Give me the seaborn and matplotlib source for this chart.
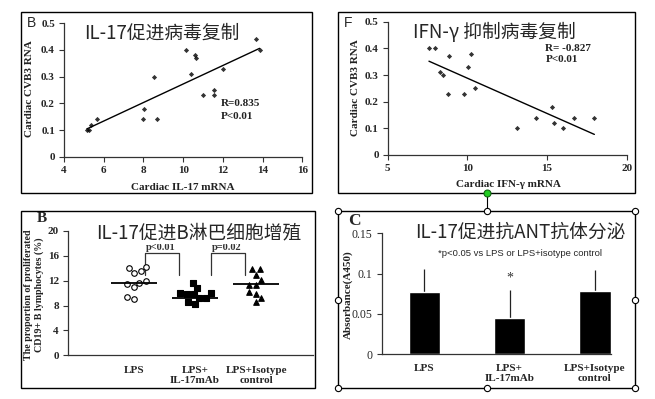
import numpy as np
import pandas as pd
import seaborn as sns
import matplotlib
matplotlib.use("Agg")
import matplotlib.pyplot as plt
from matplotlib.lines import Line2D
from matplotlib.patches import Rectangle

# --- data ---
# panel B (top left): IL-17 vs CVB3
il17_mrna = [5.15, 5.28, 5.35, 5.65, 7.97, 8.05, 8.55, 8.67, 10.15, 10.4, 10.6, 10.64, 11.0, 11.53, 11.53, 12.03, 13.68, 13.85]
cvb3_vs_il17 = [0.10, 0.10, 0.12, 0.14, 0.14, 0.18, 0.30, 0.14, 0.40, 0.31, 0.38, 0.37, 0.23, 0.25, 0.23, 0.33, 0.44, 0.40]

# panel F (top right): IFN-gamma vs CVB3
ifng_mrna = [7.59, 7.97, 8.28, 8.49, 8.87, 8.81, 9.79, 10.06, 10.21, 10.48, 13.14, 14.29, 15.29, 15.46, 16.02, 16.69, 17.97]
cvb3_vs_ifng = [0.40, 0.40, 0.31, 0.30, 0.37, 0.23, 0.23, 0.33, 0.38, 0.25, 0.10, 0.14, 0.18, 0.12, 0.10, 0.14, 0.14]

# panel B (bottom left): proliferated CD19+ B cells (%)
b_groups = ["LPS", "LPS+IL-17mAb", "LPS+Isotype control"]
b_lps = [14.2, 14.0, 13.5, 13.3, 11.9, 11.7, 11.4, 11.0, 9.4, 9.0]
b_mab = [11.6, 10.8, 10.1, 10.1, 9.9, 9.9, 9.3, 9.2, 8.5, 8.3]
b_iso = [13.85, 13.85, 13.0, 12.1, 11.3, 11.3, 10.2, 9.9, 9.3, 8.6]
b_lines = [11.6, 9.3, 11.5]

# panel C (bottom right): anti-ANT antibody absorbance
c_means = [0.077, 0.045, 0.078]
c_sd = [0.029, 0.035, 0.027]

tick_names = ["LPS", "LPS+\nIL-17mAb", "LPS+Isotype\ncontrol"]

W, H = 655, 399
cjk = ["Noto Sans CJK SC", "DejaVu Sans"]
serif = "Liberation Serif"

sns.set_theme(style="ticks")
plt.rcParams["font.family"] = [serif, "DejaVu Sans"]


def rect(l, t, r, b):  # pixel box -> figure fraction
    return [l / W, 1 - b / H, (r - l) / W, (b - t) / H]


def px(x, y):
    return x / W, 1 - y / H


def style_axes(ax, bold=True, size=8):
    sns.despine(ax=ax)
    for s in ["left", "bottom"]:
        ax.spines[s].set_color("#333333")
        ax.spines[s].set_linewidth(0.9)
    ax.tick_params(direction="out", length=3.5, width=0.8, color="#333333", pad=3, labelsize=size)
    for lab in ax.get_xticklabels() + ax.get_yticklabels():
        lab.set_family(serif)
        lab.set_fontweight("bold" if bold else "normal")


fig = plt.figure(figsize=(W / 100, H / 100), dpi=100)

# ---- top left scatter ----
ax1 = fig.add_axes(rect(64, 23.3, 302.3, 156.7))
sns.regplot(x=il17_mrna, y=cvb3_vs_il17, ci=None, marker="D", color="black",
            scatter_kws={"s": 7, "linewidths": 0}, line_kws={"lw": 1}, ax=ax1)
ax1.set_xlim(4, 16)
ax1.set_ylim(0, 0.5)
ax1.set_xticks(range(4, 17, 2))
ax1.set_yticks([0, 0.1, 0.2, 0.3, 0.4, 0.5])
ax1.set_yticklabels(["0", "0.1", "0.2", "0.3", "0.4", "0.5"])
style_axes(ax1)
ax1.text(11.9, 0.20, "R=0.835", fontsize=8, fontweight="bold", va="center", color="#222222")
ax1.text(11.9, 0.15, "P<0.01", fontsize=8, fontweight="bold", va="center", color="#222222")

# ---- top right scatter ----
ax2 = fig.add_axes(rect(387.7, 21.7, 626.7, 155))
sns.regplot(x=ifng_mrna, y=cvb3_vs_ifng, ci=None, marker="D", color="black",
            scatter_kws={"s": 7, "linewidths": 0}, line_kws={"lw": 1}, ax=ax2)
ax2.set_xlim(5, 20)
ax2.set_ylim(0, 0.5)
ax2.set_xticks([5, 10, 15, 20])
ax2.set_yticks([0, 0.1, 0.2, 0.3, 0.4, 0.5])
ax2.set_yticklabels(["0", "0.1", "0.2", "0.3", "0.4", "0.5"])
style_axes(ax2)
ax2.text(14.9, 0.40, "R= -0.827", fontsize=8, fontweight="bold", va="center", color="#222222")
ax2.text(14.9, 0.358, "P<0.01", fontsize=8, fontweight="bold", va="center", color="#222222")

# ---- bottom left dot plot ----
ax3 = fig.add_axes(rect(68, 231, 313, 355.3))
df_b = pd.DataFrame({
    "group": [b_groups[0]] * len(b_lps) + [b_groups[1]] * len(b_mab) + [b_groups[2]] * len(b_iso),
    "value": b_lps + b_mab + b_iso,
})
looks = [("o", "white"), ("s", "black"), ("^", "black")]
for g, (mk, face) in zip(b_groups, looks):
    sns.swarmplot(data=df_b[df_b["group"] == g], x="group", y="value", order=b_groups,
                  marker=mk, color=face, edgecolor="black", linewidth=0.8, size=4, ax=ax3)
for i, m in enumerate(b_lines):
    ax3.hlines(m, i - 0.38, i + 0.38, color="black", lw=1.3, zorder=5)
ax3.plot([0.18, 0.18, 0.73, 0.73], [12.9, 16.5, 16.5, 12.9], color="#333333", lw=0.9)
ax3.plot([1.26, 1.26, 1.82, 1.82], [12.9, 16.5, 16.5, 12.9], color="#333333", lw=0.9)
ax3.text(0.44, 17.4, "p<0.01", ha="center", va="center", fontsize=7.5, fontweight="bold", color="#333333")
ax3.text(1.52, 17.4, "p=0.02", ha="center", va="center", fontsize=7.5, fontweight="bold", color="#333333")
ax3.set_xlim(-1.08, 2.93)
ax3.set_ylim(0, 20)
ax3.set_yticks(range(0, 21, 4))
ax3.set_xticks([0, 1, 2])
ax3.set_xticklabels(tick_names, linespacing=1.1)
ax3.set_xlabel("")
ax3.set_ylabel("")
style_axes(ax3)
ax3.tick_params(axis="x", length=0, pad=8)

# ---- bottom right bar chart ----
ax4 = fig.add_axes(rect(381.7, 233.3, 611, 354.3))
sns.barplot(x=b_groups, y=c_means, color="black", saturation=1, width=0.37, errorbar=None, ax=ax4)
ax4.errorbar(x=[0, 1, 2], y=c_means, yerr=[[0, 0, 0], c_sd], fmt="none", ecolor="#222222",
             elinewidth=0.9, capsize=0, zorder=0)
ax4.text(1, 0.094, "*", ha="center", va="center", fontsize=10, color="#333333")
ax4.set_xlim(-0.5, 2.19)
ax4.set_ylim(0, 0.15)
ax4.set_yticks([0, 0.05, 0.1, 0.15])
ax4.set_yticklabels(["0", "0.05", "0.1", "0.15"])
ax4.set_xticks([0, 1, 2])
ax4.set_xticklabels(tick_names, linespacing=1.1)
style_axes(ax4, bold=False, size=8.5)
for lab in ax4.get_xticklabels():
    lab.set_fontweight("bold")
    lab.set_fontsize(8)
ax4.tick_params(axis="x", length=0, pad=7)

# ---- axis labels ----
lab_kw = dict(family=serif, fontweight="bold", fontsize=8, ha="center", va="center", color="#222222")
fig.text(*px(30, 89), "Cardiac CVB3 RNA", rotation=90, **lab_kw)
fig.text(*px(183, 188), "Cardiac IL-17 mRNA", **lab_kw)
fig.text(*px(355, 88), "Cardiac CVB3 RNA", rotation=90, **lab_kw)
fig.text(*px(508, 185), "Cardiac IFN-γ mRNA", **lab_kw)
fig.text(*px(34, 295), "The proportion of proliferated\nCD19+ B lymphocytes (%)", rotation=90,
         linespacing=1.25, **{**lab_kw, "fontsize": 7.2})
fig.text(*px(348, 295), "Absorbance(A450)", rotation=90, **lab_kw)

# ---- titles and panel letters ----
tbox = dict(facecolor="white", edgecolor="none", pad=0)
fig.text(*px(162, 33), "IL-17促进病毒复制", family=cjk, fontsize=13.5, ha="center", va="center", bbox=tbox)
fig.text(*px(494, 32), "IFN-γ 抑制病毒复制", family=cjk, fontsize=13.5, ha="center", va="center", bbox=tbox)
fig.text(*px(199, 233), "IL-17促进B淋巴细胞增殖", family=cjk, fontsize=13.5, ha="center", va="center", bbox=tbox)
fig.text(*px(520, 232), "IL-17促进抗ANT抗体分泌", family=cjk, fontsize=13.5, ha="center", va="center", bbox=tbox)
fig.text(*px(520, 254), "*p<0.05 vs LPS or LPS+isotype control", family="Liberation Sans",
         fontsize=6.8, ha="center", va="center", zorder=6)

fig.text(*px(27, 23), "B", family="Liberation Sans", fontsize=10, ha="left", va="center")
fig.text(*px(344, 23), "F", family="Liberation Sans", fontsize=10, ha="left", va="center")
fig.text(*px(37, 219), "B", family=serif, fontweight="bold", fontsize=11, ha="left", va="center")
fig.text(*px(348, 221), "C", family=serif, fontweight="bold", fontsize=12.5, ha="left", va="center")

# ---- panel frames ----
for (l, t, r, b) in [(21, 12, 312, 193), (338, 12, 635, 193), (21, 211, 315, 388), (338, 211, 635, 388)]:
    fig.add_artist(Rectangle((l / W, 1 - b / H), (r - l) / W, (b - t) / H, transform=fig.transFigure,
                             fill=False, edgecolor="black", lw=1, zorder=8))

# selection handles around the bottom right panel
fig.add_artist(Line2D([487 / W, 487 / W], [1 - 193 / H, 1 - 211 / H], transform=fig.transFigure,
                      color="black", lw=0.8, zorder=9))
hx = [338, 487, 635, 338, 635, 338, 487, 635]
hy = [211, 211, 211, 300, 300, 388, 388, 388]
fig.add_artist(Line2D([x / W for x in hx], [1 - y / H for y in hy], transform=fig.transFigure, ls="none",
                      marker="o", markersize=4.5, mfc="white", mec="black", mew=0.8, zorder=10))
fig.add_artist(Line2D([487 / W], [1 - 193 / H], transform=fig.transFigure, ls="none",
                      marker="o", markersize=5, mfc="#22cc22", mec="#116611", mew=0.8, zorder=10))

fig.savefig("out.png", dpi=100)
